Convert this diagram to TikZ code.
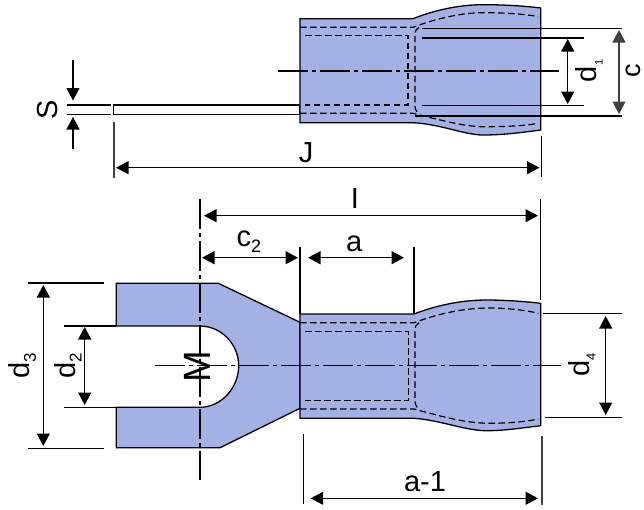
\documentclass[tikz,border=0pt]{standalone}
\usepackage{fontspec}
\setmainfont{Liberation Sans}
\usetikzlibrary{arrows.meta}
\newcommand{\lowsub}[2]{\raisebox{-6pt}{\fontsize{#1}{#1}\selectfont #2}}

\begin{document}
\begin{tikzpicture}[
    x=1pt, y=-1pt,
    outline/.style={draw=black, line width=1.3pt, fill=bodyblue},
    hidden/.style={line width=1.2pt, dash pattern=on 6.5pt off 3.5pt},
    centerline/.style={line width=1.1pt, dash pattern=on 30pt off 4pt on 4pt off 4pt},
    thinline/.style={line width=1.1pt},
    dimline/.style={line width=1.2pt, {Triangle[length=12.5pt,width=13pt]}-{Triangle[length=12.5pt,width=13pt]}},
    leader/.style={line width=1.1pt, -{Triangle[length=12.5pt,width=13pt]}},
    dimlabel/.style={font=\fontsize{29}{29}\selectfont, inner sep=0pt}
]
    \definecolor{bodyblue}{HTML}{A4B1E4}
    \useasboundingbox (0, 0) rectangle (644, 509);

    % Side view
    % - [Fig: flat strip and barrel]
    \draw [line width=1.2pt, fill=white] (113.5, 105) rectangle (300, 114.7);
    \draw [outline] (300, 18.7) -- (413, 18.7)
        .. controls (440, 8) and (465, 4.7) .. (483, 4.7)
        .. controls (505, 4.7) and (525, 6) .. (540.7, 8)
        -- (540.7, 130)
        .. controls (525, 132) and (505, 135) .. (483, 135)
        .. controls (465, 135) and (440, 124) .. (413, 122.7)
        -- (300, 122.7) -- cycle;
    % -- hidden edges
    \draw [hidden] (300, 27.3) -- (413, 27.3)
        .. controls (440, 17) and (465, 12.7) .. (483, 12.7)
        .. controls (505, 12.7) and (525, 14) .. (538, 16.7);
    \draw [hidden] (300, 113.3) -- (413, 113.3)
        .. controls (440, 120) and (465, 126.7) .. (483, 126.7)
        .. controls (505, 126.7) and (525, 126) .. (538, 123.3);
    \draw [hidden] (305, 35.7) -- (408, 35.7) -- (408, 105) -- (305, 105);
    \draw [hidden] (419, 27.3) .. controls (416, 29) and (415, 31) .. (415, 35) -- (415, 106) .. controls (415, 110) and (417, 112) .. (419, 114);
    % -- center line
    \coordinate (top_axis_l) at (278, 71);
    \coordinate (top_axis_r) at (559, 71);
    \draw [centerline] (top_axis_l) -- (top_axis_r);

    % - [Dimension: c and d1]
    \draw [thinline] (422, 28.3) -- (622, 28.3) (415, 116) -- (622, 116);
    \draw [thinline] (422, 38) -- (584, 38) (422, 105.3) -- (584, 105.3);
    \coordinate (d1_top) at (567.7, 39);
    \coordinate (d1_bot) at (567.7, 104);
    \draw [dimline] (d1_top) -- (d1_bot);
    \coordinate (c_top) at (619, 30);
    \coordinate (c_bot) at (619, 114);
    \draw [dimline, draw=black!75] (c_top) -- (c_bot);
    \node at (589, 71) [dimlabel, rotate=90] (d1_label) {d\lowsub{11}{1}};
    \node at (633.5, 71) [dimlabel, font=\fontsize{27}{27}\selectfont, rotate=90] (c_label) {c};

    % - [Dimension: S]
    \draw [thinline] (67.3, 105) -- (110.7, 105) (67.3, 114.7) -- (110.7, 114.7);
    \coordinate (S_up_a) at (73, 60);
    \coordinate (S_up_b) at (73, 100.5);
    \coordinate (S_low_a) at (73, 149);
    \coordinate (S_low_b) at (73, 117);
    \draw [leader] (S_up_a) -- (S_up_b);
    \draw [leader] (S_low_a) -- (S_low_b);
    \node at (48, 110) [dimlabel, rotate=90] (S_label) {S};

    % - [Dimension: J]
    \draw [thinline, draw=black!75] (114, 122) -- (114, 178);
    \draw [thinline] (541.7, 136) -- (541.7, 176.7);
    \coordinate (J_left) at (116, 167.7);
    \coordinate (J_right) at (539.5, 167.7);
    \draw [dimline] (J_left) -- (J_right);
    \node at (306, 153) [dimlabel] (J_label) {J};


    % Top view
    % - [Fig: fork]
    \draw [outline] (116.3, 283.3) -- (218.3, 283.3) -- (300, 322.3) -- (300, 408.3)
        -- (220, 447.7) -- (116.3, 447.7) -- (116.3, 407.3) -- (200, 407.3)
        .. controls (221, 407.3) and (238.7, 388) .. (238.7, 365.7)
        .. controls (238.7, 344) and (221, 326) .. (200, 326)
        -- (116.3, 326) -- cycle;
    % - [Fig: barrel]
    \draw [outline] (300, 314) -- (414, 314)
        .. controls (440, 304) and (465, 300) .. (486.7, 300)
        .. controls (505, 300) and (525, 301.5) .. (540.7, 303.3)
        -- (540.7, 425.7)
        .. controls (525, 427.5) and (505, 430.7) .. (486.7, 430.7)
        .. controls (465, 430.7) and (440, 420) .. (414, 418.3)
        -- (300, 418.3) -- cycle;
    % -- hidden edges
    \draw [hidden] (300, 322.7) -- (414, 322.7)
        .. controls (440, 313) and (465, 308) .. (490, 308)
        .. controls (505, 308) and (525, 310) .. (538.3, 313.3);
    \draw [hidden] (300, 409) -- (414, 409)
        .. controls (440, 416) and (465, 423.3) .. (490, 423.3)
        .. controls (505, 423.3) and (525, 422) .. (538.3, 419);
    \draw [hidden] (305, 331.3) -- (408.3, 331.3) -- (408.3, 400.3) -- (305, 400.3);
    \draw [hidden] (419, 322.7) .. controls (416, 324) and (415, 327) .. (415, 331) -- (415, 401) .. controls (415, 405) and (417, 407) .. (419, 410);
    % -- center lines
    \coordinate (bot_axis_l) at (155, 365.7);
    \coordinate (bot_axis_r) at (560.7, 365.7);
    \draw [centerline] (bot_axis_l) -- (bot_axis_r);
    \coordinate (pin_axis_t) at (200, 199);
    \coordinate (pin_axis_b) at (200, 480);
    \draw [centerline] (pin_axis_t) -- (pin_axis_b);
    \node at (197, 366.7) [dimlabel, rotate=90, font=\fontsize{38}{38}\selectfont] (M_label) {M};

    % - [Dimension: d3 and d2]
    \draw [thinline] (28, 283) -- (104, 283) (28, 448.3) -- (104, 448.3);
    \draw [thinline] (64.3, 326) -- (116, 326) (64.3, 407.7) -- (116, 407.7);
    \coordinate (d3_top) at (43.3, 285);
    \coordinate (d3_bot) at (43.3, 446);
    \draw [dimline] (d3_top) -- (d3_bot);
    \node at (22.5, 366) [dimlabel, rotate=90] (d3_label) {d\lowsub{17}{3}};
    \coordinate (d2_top) at (84.7, 327);
    \coordinate (d2_bot) at (84.7, 405);
    \draw [dimline] (d2_top) -- (d2_bot);
    \node at (68, 366) [dimlabel, rotate=90] (d2_label) {d\lowsub{17}{2}};

    % - [Dimension: I, c2 and a]
    \draw [thinline] (300, 246.7) -- (300, 314);
    \draw [thinline] (414, 247) -- (414, 314);
    \draw [thinline] (540.7, 199) -- (540.7, 300);
    \coordinate (I_left) at (204, 215.7);
    \coordinate (I_right) at (538, 215.7);
    \draw [dimline] (I_left) -- (I_right);
    \node at (355, 199) [dimlabel] (I_label) {I};
    \coordinate (c2_left) at (202, 257.7);
    \coordinate (c2_right) at (298, 257.7);
    \draw [dimline] (c2_left) -- (c2_right);
    \node at (249, 241.5) [dimlabel] (c2_label) {c\lowsub{18}{2}};
    \coordinate (a_left) at (308, 257.7);
    \coordinate (a_right) at (404, 257.7);
    \draw [dimline] (a_left) -- (a_right);
    \node at (354.3, 244) [dimlabel] (a_label) {a};

    % - [Dimension: a-1]
    \draw [thinline] (303.3, 434) -- (303.3, 504);
    \draw [thinline, draw=black!75] (542, 436) -- (542, 505);
    \coordinate (a1_left) at (310.7, 498.3);
    \coordinate (a1_right) at (538, 498.3);
    \draw [dimline] (a1_left) -- (a1_right);
    \node at (425, 481.7) [dimlabel] (a1_label) {a-1};

    % - [Dimension: d4]
    \draw [thinline] (543, 313.7) -- (622, 313.7) (545, 417.3) -- (622, 417.3);
    \coordinate (d4_top) at (605.7, 316);
    \coordinate (d4_bot) at (605.7, 415);
    \draw [dimline] (d4_top) -- (d4_bot);
    \node at (582, 365) [dimlabel, rotate=90] (d4_label) {d\lowsub{13}{4}};
\end{tikzpicture}
\end{document}
